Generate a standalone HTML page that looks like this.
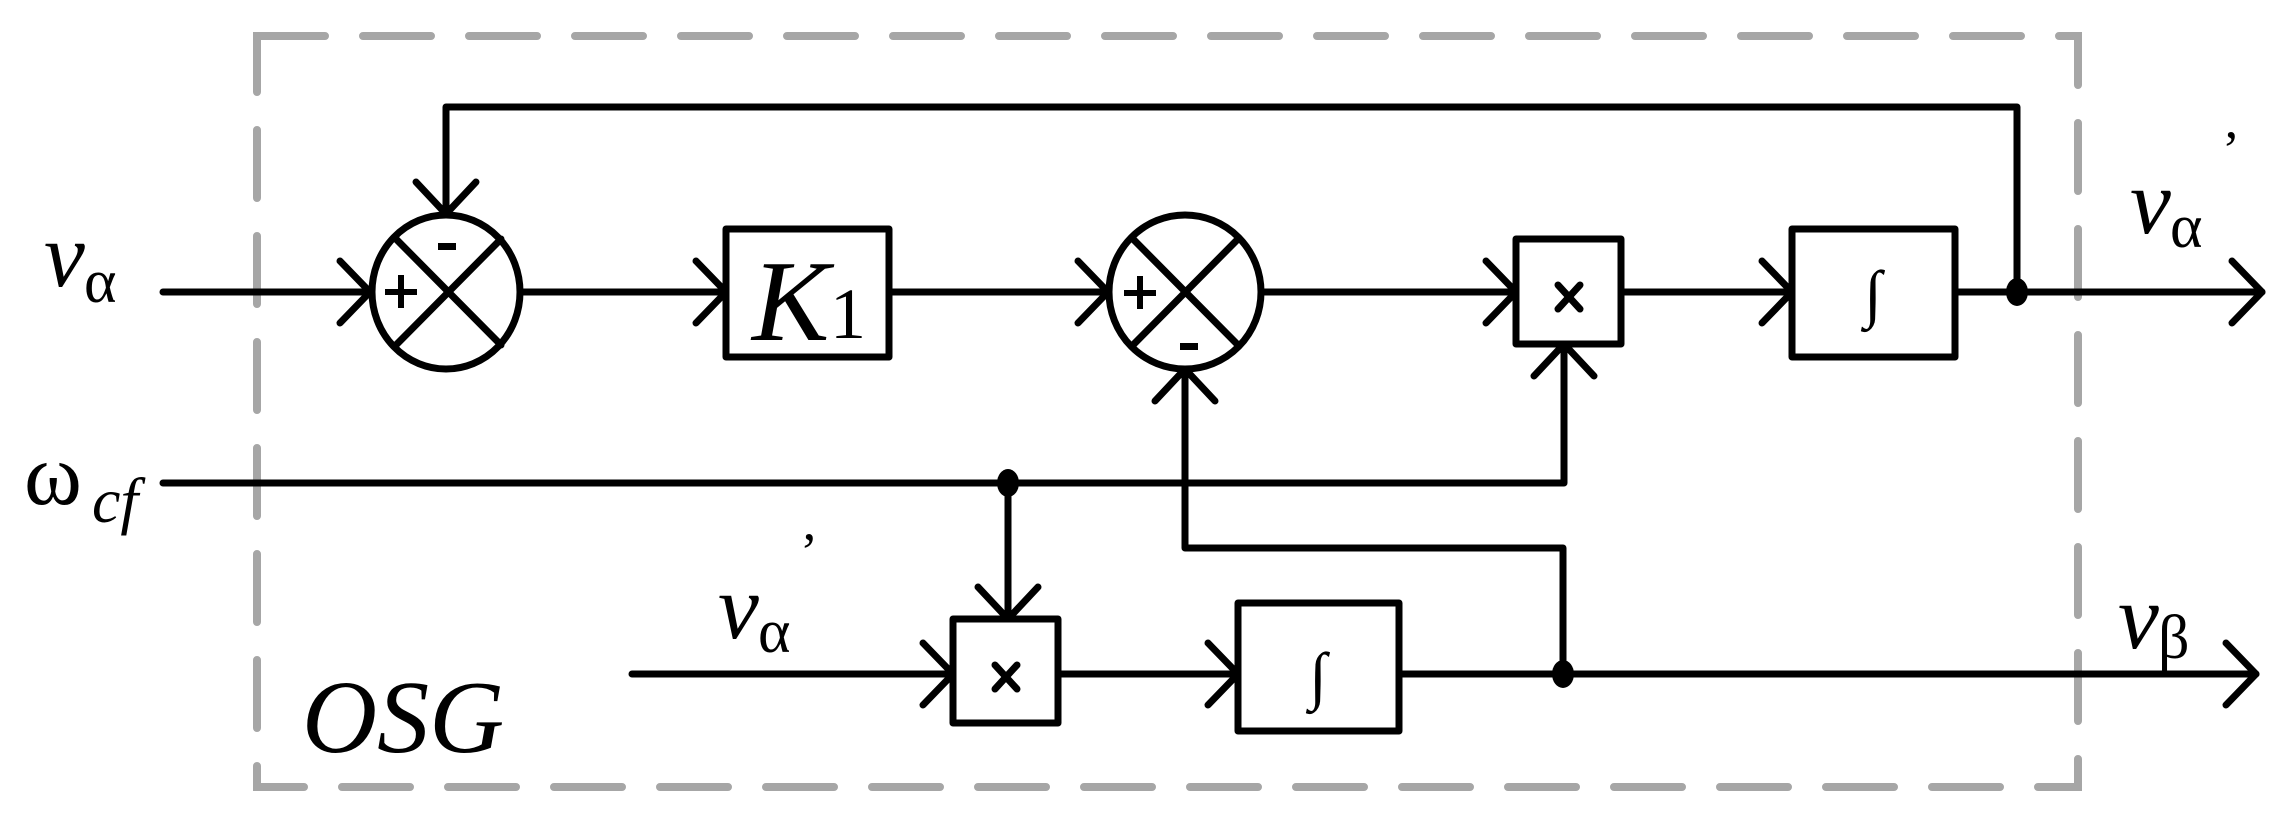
<!DOCTYPE html>
<html><head><meta charset="utf-8"><style>
html,body{margin:0;padding:0;background:#fff}
svg{display:block}
text{font-family:"Liberation Serif","Times New Roman",serif}
</style></head><body>
<svg width="2291" height="819" viewBox="0 0 2291 819" xmlns="http://www.w3.org/2000/svg">
<rect x="257" y="36" width="1821" height="751" fill="none" stroke="#a6a6a6" stroke-width="8" stroke-dasharray="68 38" stroke-linecap="round"/>
<g stroke="#000" stroke-width="7" fill="none" stroke-linejoin="round" stroke-linecap="round">
<line x1="163" y1="292" x2="370" y2="292"/>
<polyline points="340,261 370,292 340,323"/>
<ellipse cx="446" cy="292" rx="74" ry="77"/>
<line x1="396" y1="239" x2="501" y2="345"/>
<line x1="501" y1="239" x2="396" y2="345"/>
<polyline points="2017,292 2017,107 446,107 446,214"/>
<polyline points="416,182 446,214 476,182"/>
<line x1="520" y1="292" x2="726" y2="292"/>
<polyline points="696,261 726,292 696,323"/>
<rect x="726" y="229" width="163" height="128"/>
<line x1="889" y1="292" x2="1108" y2="292"/>
<polyline points="1078,261 1108,292 1078,323"/>
<ellipse cx="1185" cy="292" rx="76" ry="77"/>
<line x1="1133" y1="239" x2="1238" y2="345"/>
<line x1="1238" y1="239" x2="1133" y2="345"/>
<line x1="1261" y1="292" x2="1516" y2="292"/>
<polyline points="1486,261 1516,292 1486,323"/>
<rect x="1516" y="239" width="105" height="105"/>
<line x1="1621" y1="292" x2="1792" y2="292"/>
<polyline points="1762,261 1792,292 1762,323"/>
<rect x="1792" y="229" width="163" height="128"/>
<line x1="1955" y1="292" x2="2262" y2="292"/>
<polyline points="2232,261 2262,292 2232,323"/>
<polyline points="163,483 1564,483 1564,344"/>
<polyline points="1534,376 1564,344 1594,376"/>
<line x1="1008" y1="483" x2="1008" y2="619"/>
<polyline points="978,587 1008,619 1038,587"/>
<line x1="632" y1="674" x2="953" y2="674"/>
<polyline points="923,643 953,674 923,705"/>
<rect x="953" y="619" width="105" height="104"/>
<line x1="1058" y1="674" x2="1238" y2="674"/>
<polyline points="1208,643 1238,674 1208,705"/>
<rect x="1238" y="603" width="161" height="128"/>
<line x1="1399" y1="674" x2="2256" y2="674"/>
<polyline points="2226,643 2256,674 2226,705"/>
<polyline points="1563,674 1563,548 1185,548 1185,369"/>
<polyline points="1155,401 1185,369 1215,401"/>
<line x1="1558" y1="285" x2="1580" y2="309"/><line x1="1580" y1="285" x2="1558" y2="309"/>
<line x1="995" y1="665" x2="1017" y2="689"/><line x1="1017" y1="665" x2="995" y2="689"/>
</g>
<g fill="#000">
<ellipse cx="2017" cy="292" rx="11" ry="14"/>
<ellipse cx="1008" cy="483" rx="11" ry="14"/>
<ellipse cx="1563" cy="674" rx="11" ry="14"/>
<rect x="385" y="289" width="32" height="6"/><rect x="398" y="275" width="6" height="33"/>
<rect x="438" y="243" width="18" height="7"/>
<rect x="1124" y="290" width="32" height="6"/><rect x="1137" y="276" width="6" height="33"/>
<rect x="1180" y="343" width="18" height="7"/>
</g>
<text x="1873" y="315" font-size="64" text-anchor="middle">∫</text>
<text x="1318" y="697" font-size="64" text-anchor="middle">∫</text>
<text x="44" y="286" font-size="92" font-style="italic">v</text>
<text x="84" y="302" font-size="62">α</text>
<text x="24" y="504" font-size="88">ω</text>
<text x="92" y="522" font-size="64" font-style="italic">cf</text>
<text x="752" y="340" font-size="116" font-style="italic">K</text>
<text x="830" y="338" font-size="72">1</text>
<text x="718" y="638" font-size="92" font-style="italic">v</text>
<text x="758" y="652" font-size="62">α</text>
<text x="800" y="570" font-size="54">’</text>
<text x="2130" y="233" font-size="92" font-style="italic">v</text>
<text x="2170" y="247" font-size="62">α</text>
<text x="2222" y="168" font-size="54">’</text>
<text x="2118" y="648" font-size="92" font-style="italic">v</text>
<text x="2158" y="658" font-size="62">β</text>
<text x="302" y="752" font-size="104" font-style="italic">OSG</text>
</svg>
</body></html>
